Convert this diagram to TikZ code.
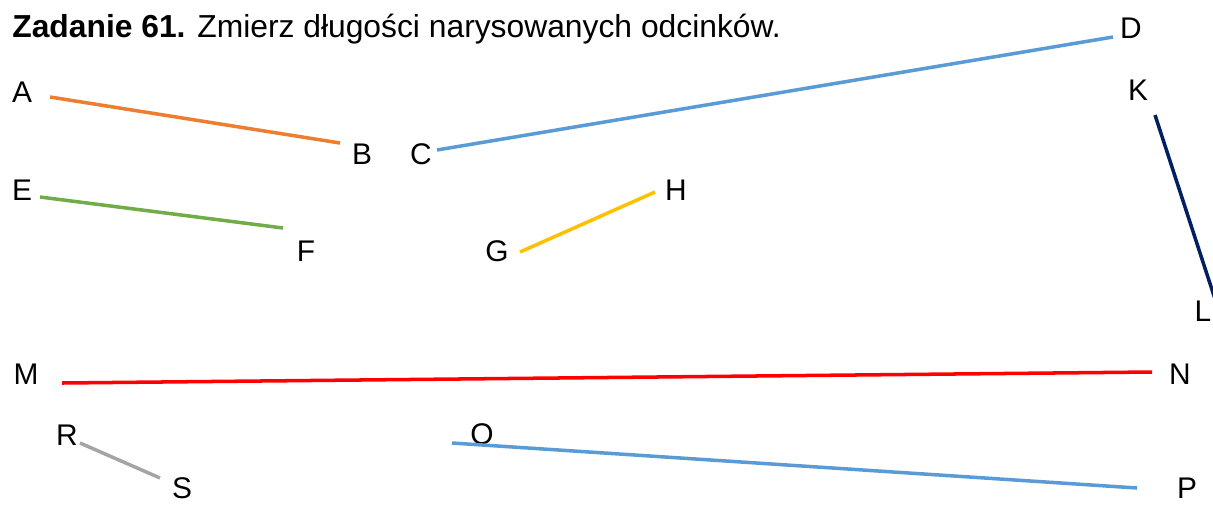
\documentclass[tikz,border=0pt]{standalone}
\usepackage{fontspec}
\setmainfont{Liberation Sans}
\usepackage{tikz}
\definecolor{orangeAB}{HTML}{ED7D31}
\definecolor{blueCD}{HTML}{5B9BD5}
\definecolor{navyKL}{HTML}{002060}
\definecolor{greenEF}{HTML}{70AD47}
\definecolor{yellowGH}{HTML}{FFC000}
\definecolor{grayRS}{HTML}{A5A5A5}

\begin{document}
\begin{tikzpicture}[x=0.2mm, y=-0.2mm, font=\fontsize{17}{20}\selectfont]
	\tikzset{pt/.style={inner sep=0pt}, seg/.style={line width=2pt}}
	\useasboundingbox (0,0) rectangle (1213,504);
	\node [pt, anchor=west, font=\fontsize{18.1}{21}\selectfont] (title) at (12,29) {\textbf{Zadanie 61.} Zmierz długości narysowanych odcinków.};
	% labels
	\node [pt] (lA) at (22,92) {A};
	\node [pt] (lB) at (362,154) {B};
	\node [pt] (lC) at (421,154) {C};
	\node [pt] (lD) at (1131,28) {D};
	\node [pt] (lK) at (1138,90) {K};
	\node [pt] (lL) at (1203,311) {L};
	\node [pt] (lE) at (22,190) {E};
	\node [pt] (lF) at (306,251) {F};
	\node [pt] (lG) at (497,251) {G};
	\node [pt] (lH) at (676,190) {H};
	\node [pt] (lM) at (26,374) {M};
	\node [pt] (lN) at (1180,374) {N};
	\node [pt] (lR) at (67,435) {R};
	\node [pt] (lS) at (182,488) {S};
	\node [pt] (lO) at (482,434) {O};
	\node [pt] (lP) at (1187,488) {P};
	% end points
	\coordinate (a) at (50,97);
	\coordinate (b) at (340,143);
	\coordinate (c) at (437,150);
	\coordinate (d) at (1113,37);
	\coordinate (k) at (1155,115);
	\coordinate (l) at (1216,302);
	\coordinate (e) at (40,197);
	\coordinate (f) at (283,228);
	\coordinate (g) at (520,252);
	\coordinate (h) at (655,192);
	\coordinate (m) at (62,383);
	\coordinate (n) at (1152,372);
	\coordinate (r) at (80,443);
	\coordinate (s) at (160,478);
	\coordinate (o) at (452,443);
	\coordinate (p) at (1137,488);
	\draw [seg, orangeAB] (a) -- (b);
	\draw [seg, blueCD] (c) -- (d);
	\draw [seg, navyKL] (k) -- (l);
	\draw [seg, greenEF] (e) -- (f);
	\draw [seg, yellowGH] (g) -- (h);
	\draw [seg, red] (m) -- (n);
	\draw [seg, grayRS] (r) -- (s);
	\draw [seg, blueCD] (o) -- (p);
\end{tikzpicture}
\end{document}
